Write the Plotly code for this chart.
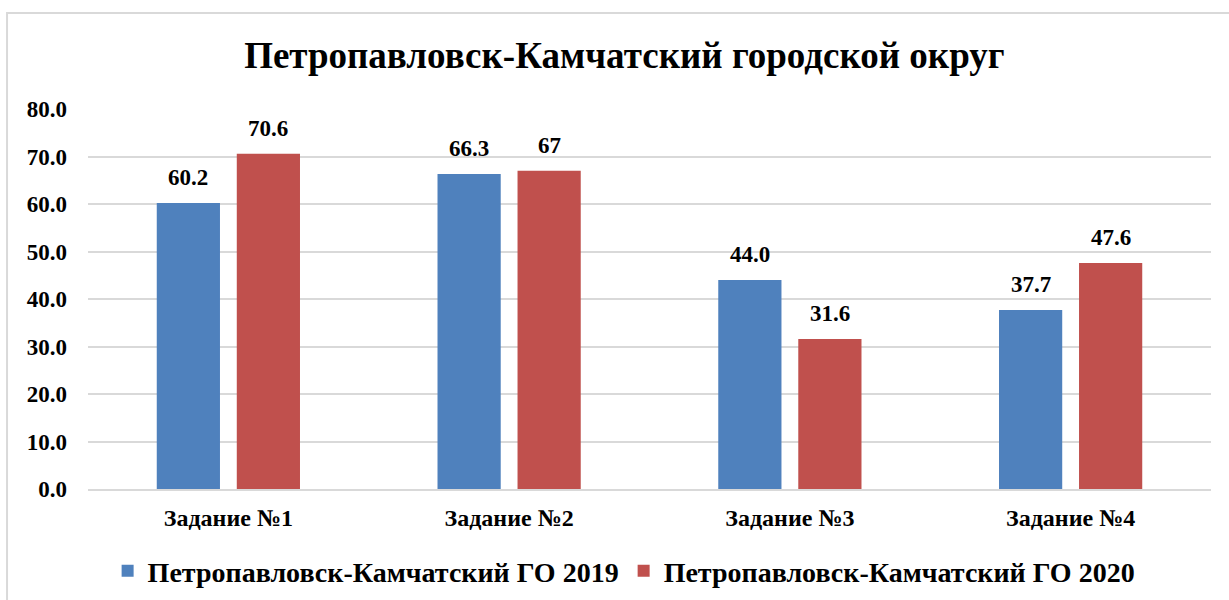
import plotly.graph_objects as go

categories = ["Задание №1", "Задание №2", "Задание №3", "Задание №4"]
values_2019 = [60.2, 66.3, 44.0, 37.7]
values_2020 = [70.6, 67, 31.6, 47.6]
labels_2019 = ["60.2", "66.3", "44.0", "37.7"]
labels_2020 = ["70.6", "67", "31.6", "47.6"]
series_names = ["Петропавловск-Камчатский ГО 2019", "Петропавловск-Камчатский ГО 2020"]
title_text = "Петропавловск-Камчатский городской округ"
y_ticks = [0, 10, 20, 30, 40, 50, 60, 70, 80]

FONT = "Liberation Serif"
BLUE = "#4f81bd"
RED = "#c0504d"

fig = go.Figure()
fig.add_trace(go.Bar(x=categories, y=values_2019, name="<b>" + series_names[0] + "</b>",
                     marker=dict(color=BLUE, line=dict(width=0))))
fig.add_trace(go.Bar(x=categories, y=values_2020, name="<b>" + series_names[1] + "</b>",
                     marker=dict(color=RED, line=dict(width=0))))

# value labels above each bar
annotations = []
for values, labels, shift in ((values_2019, labels_2019, -40), (values_2020, labels_2020, 40)):
    for cat, v, t in zip(categories, values, labels):
        annotations.append(dict(x=cat, y=v, text="<b>" + t + "</b>", xref="x", yref="y",
                                showarrow=False, xshift=shift, yanchor="bottom", yshift=11,
                                font=dict(family=FONT, size=23, color="black")))

fig.update_layout(
    width=1229, height=600,
    margin=dict(l=88, r=18, t=109, b=111, autoexpand=False),
    paper_bgcolor="white", plot_bgcolor="white",
    barmode="group", bargap=0.43, bargroupgap=0.21,
    font=dict(family=FONT, color="black"),
    title=dict(text="<b>" + title_text + "</b>", x=0.508, xanchor="center",
               y=0.908, yanchor="middle",
               font=dict(family=FONT, size=37, color="black")),
    xaxis=dict(showgrid=False, showline=True, linecolor="#d9d9d9", linewidth=2,
               ticks="", tickfont=dict(family=FONT, size=24, color="black"),
               tickprefix="<b>", ticksuffix="</b>", ticklabelstandoff=6),
    yaxis=dict(range=[0, 80], tickvals=y_ticks,
               ticktext=["<b>%.1f</b>" % v for v in y_ticks],
               showgrid=True, gridcolor="#d9d9d9", gridwidth=2,
               zeroline=False, showline=False, ticks="",
               tickfont=dict(family=FONT, size=23, color="black"), ticklabelstandoff=20),
    legend=dict(orientation="h", x=0.4774, xanchor="center", y=-0.216, yanchor="middle",
                font=dict(family=FONT, size=28, color="black")),
    annotations=annotations,
    shapes=[dict(type="rect", xref="paper", yref="paper",
                 x0=-0.0721, x1=1.2, y0=-0.5, y1=1.2526,
                 line=dict(color="#d9d9d9", width=2), fillcolor="rgba(0,0,0,0)", layer="below")],
)

fig.write_html("out.html")
